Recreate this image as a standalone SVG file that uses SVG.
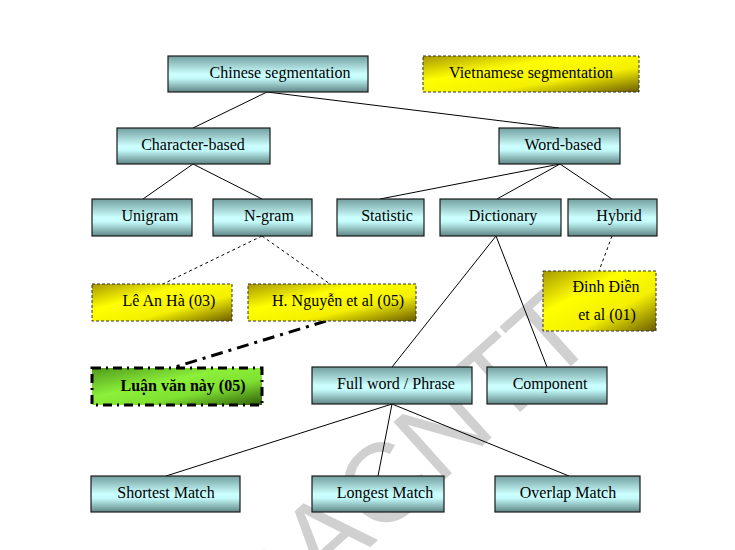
<svg xmlns="http://www.w3.org/2000/svg" width="735" height="550" viewBox="0 0 735 550">
<defs>
<linearGradient id="gC" x1="0" y1="0" x2="0" y2="1">
<stop offset="0" stop-color="#729e9e"/>
<stop offset="0.5" stop-color="#ccffff"/>
<stop offset="0.62" stop-color="#c4fafa"/>
<stop offset="1" stop-color="#5f8585"/>
</linearGradient>
<linearGradient id="gY" x1="0" y1="0" x2="1" y2="1">
<stop offset="0" stop-color="#a89800"/>
<stop offset="0.35" stop-color="#ffff00"/>
<stop offset="0.65" stop-color="#f4f000"/>
<stop offset="1" stop-color="#6b5c00"/>
</linearGradient>
<linearGradient id="gG" x1="0" y1="0" x2="1" y2="1">
<stop offset="0" stop-color="#4f9a1a"/>
<stop offset="0.4" stop-color="#8cf03a"/>
<stop offset="0.65" stop-color="#7ee030"/>
<stop offset="1" stop-color="#2f5c0a"/>
</linearGradient>
</defs>
<style>
text{font-family:"Liberation Serif","Times New Roman",serif;font-size:16px;fill:#000;text-anchor:middle}
.c{fill:url(#gC);stroke:#1a1a1a;stroke-width:1.2}
.y{fill:url(#gY);stroke:#333;stroke-width:1;stroke-dasharray:3 2}
.g{fill:url(#gG);stroke:#000;stroke-width:3;stroke-dasharray:9 5 2 5}
.l{stroke:#000;stroke-width:1;fill:none}
.d{stroke:#000;stroke-width:1;fill:none;stroke-dasharray:3 3}
.dd{stroke:#000;stroke-width:3;fill:none;stroke-dasharray:12 6 3 6}
.wm{font-family:"Liberation Sans",Arial,sans-serif;font-size:112px;fill:#d0d0d0;text-anchor:start}
</style>
<rect width="735" height="550" fill="#fff"/>
<text class="wm" transform="translate(258,648) rotate(-42)">OACNTT</text>
<g id="connectors">
<line class="l" x1="267" y1="92" x2="193" y2="128"/>
<line class="l" x1="267" y1="92" x2="559" y2="128"/>
<line class="l" x1="193" y1="164" x2="143" y2="199"/>
<line class="l" x1="193" y1="164" x2="262" y2="199"/>
<line class="l" x1="560" y1="164" x2="380" y2="199"/>
<line class="l" x1="560" y1="164" x2="497" y2="199"/>
<line class="l" x1="560" y1="164" x2="612" y2="199"/>
<line class="d" x1="262" y1="236" x2="163" y2="284"/>
<line class="d" x1="262" y1="236" x2="330" y2="284"/>
<line class="d" x1="612" y1="236" x2="599" y2="271"/>
<line class="dd" x1="326" y1="321" x2="172" y2="368"/>
<line class="l" x1="496" y1="236" x2="392" y2="367"/>
<line class="l" x1="496" y1="236" x2="547" y2="367"/>
<line class="l" x1="392" y1="404" x2="166" y2="476"/>
<line class="l" x1="392" y1="404" x2="378" y2="476"/>
<line class="l" x1="392" y1="404" x2="569" y2="476"/>
</g>
<g id="chinese"><rect class="c" x="168" y="56" width="200" height="36"/><text x="280" y="78">Chinese segmentation</text></g>
<g id="vietnamese"><rect class="y" x="423" y="56" width="216" height="36"/><text x="531" y="78">Vietnamese segmentation</text></g>
<g id="character"><rect class="c" x="117" y="128" width="153" height="36"/><text x="193" y="150">Character-based</text></g>
<g id="word"><rect class="c" x="499" y="128" width="121" height="36"/><text x="563" y="150">Word-based</text></g>
<g id="unigram"><rect class="c" x="92" y="199" width="100" height="37"/><text x="150" y="221">Unigram</text></g>
<g id="ngram"><rect class="c" x="213" y="199" width="99" height="37"/><text x="269" y="221">N-gram</text></g>
<g id="statistic"><rect class="c" x="337" y="199" width="87" height="37"/><text x="387" y="221">Statistic</text></g>
<g id="dictionary"><rect class="c" x="440" y="199" width="121" height="37"/><text x="503" y="221">Dictionary</text></g>
<g id="hybrid"><rect class="c" x="568" y="199" width="89" height="37"/><text x="619" y="221">Hybrid</text></g>
<g id="lean"><rect class="y" x="92" y="284" width="140" height="37"/><text x="169" y="306">Lê An Hà (03)</text></g>
<g id="nguyen"><rect class="y" x="248" y="284" width="168" height="37"/><text x="338" y="306">H. Nguyễn et al (05)</text></g>
<g id="dinhdien"><rect class="y" x="543" y="271" width="113" height="60"/><text x="606" y="292">Đinh Điền</text><text x="607" y="320">et al (01)</text></g>
<g id="luanvan"><rect class="g" x="92" y="368" width="170" height="37"/><text x="183" y="391" font-weight="bold">Luận văn này (05)</text></g>
<g id="fullword"><rect class="c" x="312" y="367" width="160" height="37"/><text x="396" y="389">Full word / Phrase</text></g>
<g id="component"><rect class="c" x="487" y="367" width="120" height="37"/><text x="550" y="389">Component</text></g>
<g id="shortest"><rect class="c" x="91" y="476" width="149" height="36"/><text x="166" y="498">Shortest Match</text></g>
<g id="longest"><rect class="c" x="312" y="476" width="132" height="36"/><text x="385" y="498">Longest Match</text></g>
<g id="overlap"><rect class="c" x="495" y="476" width="145" height="36"/><text x="568" y="498">Overlap Match</text></g>
</svg>
